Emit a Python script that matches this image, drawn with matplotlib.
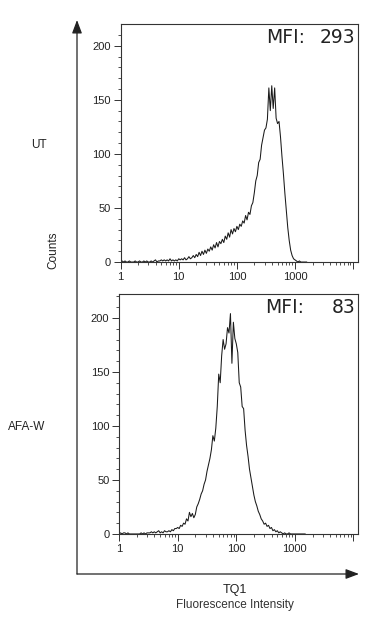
import matplotlib
matplotlib.use("Agg")

import matplotlib.pyplot as plt
import numpy as np
from matplotlib.ticker import FixedLocator, NullFormatter

plt.rcParams["font.family"] = ["Liberation Sans", "DejaVu Sans"]

# histogram channels: log10 position, step of 0.025 decade starting at 1
log_step = 0.025

ut_counts = [
    1, 1, 0, 1, 0, 0, 1, 0, 0, 0, 1, 0, 0, 1, 0, 0, 1, 0, 1, 0,
    0, 1, 0, 1, 2, 0, 1, 1, 2, 1, 2,
    1, 2, 1, 3, 1, 2, 1, 2, 1, 3,
    2, 3, 2, 4, 2, 3, 5, 3, 4, 6,
    4, 7, 5, 9, 6, 10, 7, 11, 8, 12,
    10, 14, 11, 16, 13, 18, 14, 19, 17, 21,
    18, 24, 21, 27, 23, 30, 26, 31, 28, 33,
    30, 35, 33, 38, 36, 43, 39, 46, 44, 52,
    55, 64, 75, 80, 92, 95, 108, 115, 122, 124,
    132, 161, 140, 163, 142, 161, 133, 128, 130, 116,
    98, 82, 64, 48, 32, 20, 11, 6, 3, 2,
    1, 0, 1, 0, 0, 0, 0, 0,
]

afaw_counts = [
    0, 1, 0, 1, 1, 0, 1, 0, 0, 0, 0, 0, 0, 0, 0, 1, 0, 1, 0, 1, 1,
    1, 2, 1, 2, 1, 2, 3, 1, 2, 1, 3, 2, 2, 3, 2, 4, 3, 5,
    5, 6, 5, 8, 7, 10, 9, 14, 12, 20, 16,
    19, 15, 18, 25, 28, 32, 37, 40, 46, 50,
    58, 64, 70, 78, 91, 86, 98, 118, 148, 140,
    165, 180, 171, 176, 191, 186, 204, 158, 196, 181,
    176, 168, 140, 136, 118, 116, 96, 82, 72, 60,
    52, 44, 36, 30, 26, 21, 18, 14, 12, 9,
    10, 7, 8, 5, 6, 3, 4, 2, 3, 1,
    2, 1, 0, 1, 0, 0, 1, 0, 0, 0, 0, 0, 0, 0, 0, 0, 0, 0,
]

sample_labels = ["UT", "AFA-W"]
mfi_values = ["293", "83"]
x_tick_values = [1, 10, 100, 1000, 10000]
x_tick_labels = ["1", "10", "100", "1000", ""]
y_tick_values = [0, 50, 100, 150, 200]

fig = plt.figure(figsize=(3.7, 6.18), dpi=100)

panels = [
    (ut_counts, [0.326, 0.576, 0.641, 0.385], 220),
    (afaw_counts, [0.322, 0.136, 0.646, 0.388], 222),
]

for (counts, rect, ymax), mfi in zip(panels, mfi_values):
    ax = fig.add_axes(rect)
    counts = np.asarray(counts)
    x = 10 ** (np.arange(len(counts)) * log_step)
    ax.plot(x, counts, color="#1a1a1a", lw=0.75)
    ax.set_xscale("log")
    ax.set_xlim(1, 10 ** 4.08)
    ax.set_ylim(0, ymax)
    ax.xaxis.set_major_locator(FixedLocator(x_tick_values))
    ax.set_xticklabels(x_tick_labels)
    minors = [m * 10 ** d for d in range(4) for m in range(2, 10)]
    ax.xaxis.set_minor_locator(FixedLocator(minors))
    ax.xaxis.set_minor_formatter(NullFormatter())
    ax.set_yticks(y_tick_values)
    ax.yaxis.set_minor_locator(FixedLocator(np.arange(0, ymax, 10)))
    ax.tick_params(which="major", length=5, width=0.7, labelsize=8,
                   color="#333333", labelcolor="#222222", pad=2)
    ax.tick_params(which="minor", length=2.5, width=0.6, color="#333333")
    for sp in ax.spines.values():
        sp.set_linewidth(0.8)
        sp.set_color("#333333")
    ax.text(0.612, 0.985, "MFI:", transform=ax.transAxes, ha="left",
            va="top", fontsize=13.5, family="DejaVu Sans", color="#222222")
    ax.text(0.988, 0.985, mfi, transform=ax.transAxes, ha="right",
            va="top", fontsize=13.5, family="DejaVu Sans", color="#222222")

# outer frame with arrows, in pixel coordinates
frame = fig.add_axes([0, 0, 1, 1])
frame.set_xlim(0, 370)
frame.set_ylim(618, 0)
frame.axis("off")
arrow = dict(arrowstyle="-|>,head_length=0.8,head_width=0.3",
             color="#222222", lw=0.9, shrinkA=0, shrinkB=0)
frame.annotate("", xy=(77, 20), xytext=(77, 574), arrowprops=arrow)
frame.annotate("", xy=(359, 574), xytext=(77, 574), arrowprops=arrow)

frame.text(53, 250, "Counts", rotation=90, ha="center", va="center",
           fontsize=8.5, color="#222222")
frame.text(39, 145, sample_labels[0], ha="center", va="center",
           fontsize=8.5, color="#222222")
frame.text(27, 427, sample_labels[1], ha="center", va="center",
           fontsize=8.5, color="#222222")
frame.text(235, 590, "TQ1", ha="center", va="center", fontsize=9,
           color="#222222")
frame.text(235, 605, "Fluorescence Intensity", ha="center", va="center",
           fontsize=8.5, color="#333333")

fig.savefig("out.png", dpi=100)
